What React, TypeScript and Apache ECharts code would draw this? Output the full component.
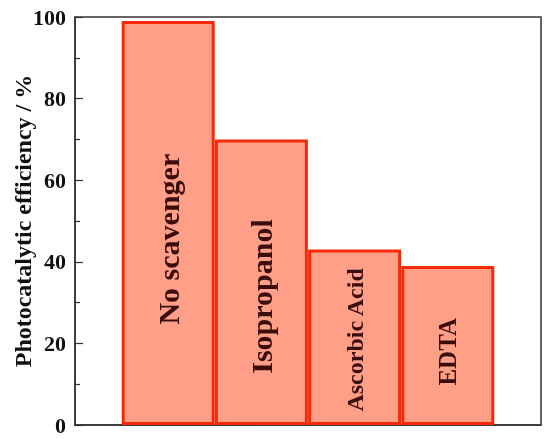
import React, { useEffect, useRef } from "react";
import * as echarts from "echarts";

const categories = ["No scavenger", "Isopropanol", "Ascorbic Acid", "EDTA"];
const efficiency = [99, 70, 43, 39];
const yTicks = [0, 20, 40, 60, 80, 100];

// label layout (style only)
const labelFont = [30, 30, 24, 25];
const labelPosY = ["54%", "55%", "51.5%", "54%"];

export default function App() {
  const ref = useRef<HTMLDivElement>(null);
  useEffect(() => {
    if (!ref.current) return;
    const chart = echarts.init(ref.current, null, { renderer: "svg" });
    const font = "'Liberation Serif', 'Times New Roman', serif";
    chart.setOption({
      animation: false,
      grid: {
        left: 75,
        right: 9,
        top: 17,
        bottom: 14,
        outerBoundsMode: "none",
        containLabel: false,
        show: true,
        borderColor: "#333",
        borderWidth: 1.5,
        backgroundColor: "transparent",
      },
      xAxis: {
        type: "value",
        min: 0,
        max: 5,
        axisLine: { show: true, lineStyle: { color: "#333", width: 1.5 } },
        axisTick: { show: false },
        axisLabel: { show: false },
        splitLine: { show: false },
      },
      yAxis: {
        type: "value",
        min: yTicks[0],
        max: yTicks[yTicks.length - 1],
        interval: 20,
        name: "Photocatalytic efficiency / %",
        nameLocation: "middle",
        nameGap: 40,
        nameMoveOverlap: false,
        nameTextStyle: {
          fontFamily: font,
          fontWeight: "bold",
          fontSize: 24,
          color: "#111",
        },
        axisLine: { show: true, lineStyle: { color: "#333", width: 1.5 } },
        axisTick: { show: true, inside: true, length: 8, lineStyle: { color: "#333", width: 1.2 } },
        minorTick: { show: true, splitNumber: 2, length: 5, lineStyle: { color: "#333", width: 1.2 } },
        axisLabel: {
          fontFamily: font,
          fontWeight: "bold",
          fontSize: 22,
          color: "#111",
          margin: 9,
        },
        splitLine: { show: false },
      },
      series: [
        {
          type: "bar",
          barWidth: 93,
          data: efficiency.map((v, i) => ({
            value: [i + 1, v],
            label: {
              show: true,
              formatter: categories[i],
              rotate: 90,
              position: ["50%", labelPosY[i]],
              align: "center",
              verticalAlign: "middle",
              fontFamily: font,
              fontWeight: "bold",
              fontSize: labelFont[i],
              color: "#3a0c0c",
            },
          })),
          itemStyle: {
            color: "#ff9f88",
            borderColor: "#f52a08",
            borderWidth: 3,
          },
        },
      ],
    });
    return () => chart.dispose();
  }, []);
  return (
    <div
      ref={ref}
      style={{ position: "fixed", left: 0, top: 0, width: 550, height: 439 }}
    />
  );
}
